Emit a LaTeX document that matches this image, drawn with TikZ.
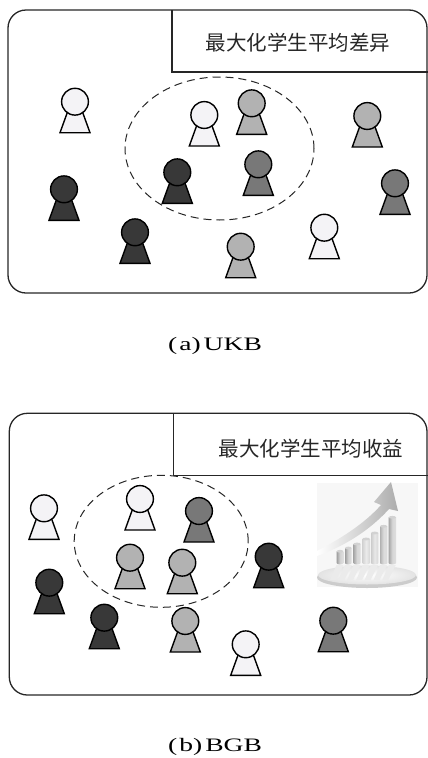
\documentclass[tikz,border=0pt]{standalone}
\usepackage{fontspec}
\setmainfont{Liberation Serif}
\newfontfamily\cjkfont{Noto Sans CJK SC}
\definecolor{pwhite}{HTML}{F4F3F6}
\definecolor{plight}{HTML}{B2B2B2}
\definecolor{pmid}{HTML}{787878}
\definecolor{pdark}{HTML}{383838}
\tikzset{
  frame/.style={draw=black!85, line width=1.3pt},
  groupring/.style={draw=black!85, line width=1pt, dash pattern=on 8pt off 5pt},
  titletext/.style={font=\cjkfont\fontsize{20.5}{24}\selectfont, text=black!85, inner sep=0pt},
  captext/.style={font=\fontsize{19}{22}\selectfont, inner sep=0pt, anchor=base},
  student/.pic={
    \path[pic actions, draw=black, line width=1.4pt, line join=miter]
      (-7.4,10) -- (7.4,10) -- (15,31) -- (-15,31) -- cycle;
    \path[pic actions, draw=black, line width=1.4pt] (0,0) circle[radius=13.4pt];
  },
  wh/.style={fill=pwhite}, lg/.style={fill=plight},
  mg/.style={fill=pmid}, dk/.style={fill=pdark},
}
\newcommand\chartbar[4]{% left, right, top, shade strength
  \shade[left color=gray!#4, right color=gray!#4!black!20, middle color=gray!#4!white!45]
    (#1,563) -- (#1,#3) -- (#2,#3) -- (#2,563) arc[start angle=0, end angle=-180, x radius={(#2-#1)/2*1pt}, y radius=1.5pt] -- cycle;
  \fill[gray!35] ({(#1+#2)/2},#3) ellipse[x radius={(#2-#1)/2*1pt}, y radius=1.4pt];
}
\begin{document}
\begin{tikzpicture}[x=1pt, y=-1pt]
\useasboundingbox (0,0) rectangle (428,758);

% ---------------- (a) UKB ----------------
\draw[frame, rounded corners=18pt] (8,10) rectangle (427,293);
\draw[frame] (172,10) -- (172,72) -- (428,72);
\node[titletext] (ta) at (298,43) {最大化学生平均差异};
\draw[groupring] (219.5,148.5) ellipse[x radius=94.5pt, y radius=71.5pt];

\pic[wh] at (75,101.7) {student};
\pic[wh] at (204.3,115) {student};
\pic[lg] at (251.7,103.3) {student};
\pic[lg] at (367.3,116) {student};
\pic[dk] at (64,189.3) {student};
\pic[dk] at (177.3,172.3) {student};
\pic[mg] at (258.3,164.3) {student};
\pic[mg] at (395,183.3) {student};
\pic[dk] at (135,232.3) {student};
\pic[lg] at (240.7,246.7) {student};
\pic[wh] at (324.3,227.7) {student};

\node[captext] (ca) at (215,350) {\scalebox{1.45}[1]{(\kern1.5pt a)\kern2pt UKB}};

% ---------------- (b) BGB ----------------
\draw[frame, rounded corners=18pt] (9.3,413.3) rectangle (427,695);
\draw[frame] (173.3,413.3) -- (173.3,475.7) -- (428,475.7);
\node[titletext] (tb) at (311,448.3) {最大化学生平均收益};
\draw[groupring] (161.2,541.3) ellipse[x radius=87pt, y radius=66pt];

\pic[wh] at (44,508.3) {student};
\pic[wh] at (140,499) {student};
\pic[mg] at (199,511) {student};
\pic[lg] at (130,557.7) {student};
\pic[lg] at (182.3,562.7) {student};
\pic[dk] at (268.7,556.7) {student};
\pic[dk] at (49.3,582.7) {student};
\pic[dk] at (104.3,617.7) {student};
\pic[lg] at (185.3,621) {student};
\pic[wh] at (245.7,644.3) {student};
\pic[mg] at (333.3,620.7) {student};

% growth chart icon
\fill[gray!6] (317,483) rectangle (418,587);
\fill[gray!40] (367,577.5) ellipse[x radius=50pt, y radius=10.5pt];
\shade[inner color=white, outer color=gray!22] (367,575) ellipse[x radius=49pt, y radius=9.5pt];
\foreach \bx in {340,348.3,357,366.1,374.6,383.6,392.3}
  \fill[gray!16] (\bx-3.5,565) -- (\bx+3.5,565) -- (\bx-4,580) -- (\bx-10,580) -- cycle;
\shade[left color=white, right color=gray!65]
  (317,556) .. controls (345,546) and (370,530) .. (389,509)
  -- (398,511) -- (391,482) -- (374,502) -- (381,505)
  .. controls (365,523) and (342,538) .. (317,551) -- cycle;
\chartbar{336.7}{343.3}{551.3}{75}
\chartbar{345}{351.7}{548}{75}
\chartbar{353.3}{360.7}{544}{70}
\chartbar{362.3}{370}{539}{35}
\chartbar{371}{378.3}{533}{40}
\chartbar{380}{387.3}{526.3}{60}
\chartbar{388.7}{396}{517.3}{70}

\node[captext] (cb) at (215,751) {\scalebox{1.45}[1]{(\kern1.5pt b)\kern2pt BGB}};
\end{tikzpicture}
\end{document}
